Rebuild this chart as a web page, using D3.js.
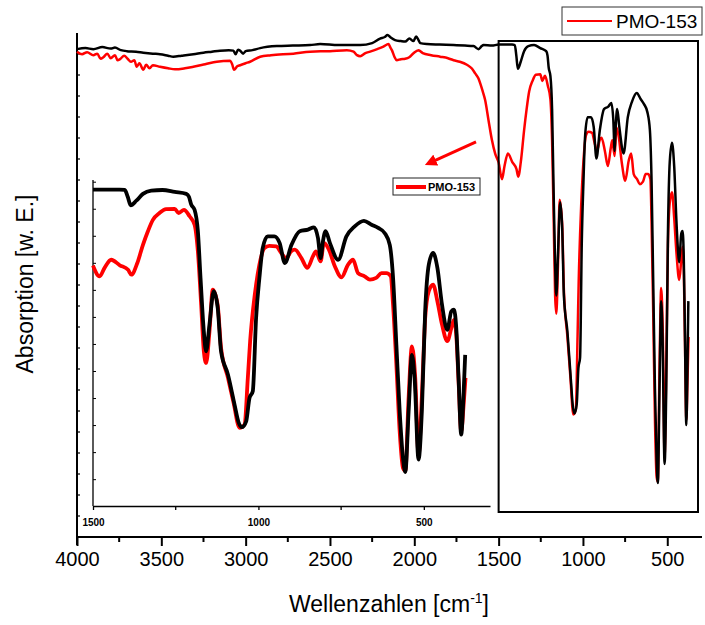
<!DOCTYPE html>
<html>
<head>
<meta charset="utf-8">
<script src="https://cdn.jsdelivr.net/npm/d3@7"></script>
<style>
  html, body { margin: 0; padding: 0; background: #fff; }
  svg { display: block; font-family: Arial, "Liberation Sans", sans-serif; }
</style>
</head>
<body>
<svg id="chart" width="705" height="625"></svg>
<script>
// ---------- data (wavenumber [cm-1], absorption in arbitrary units) ----------
const blackSpectrum = [
  [4000,96.8],[3950,97.0],[3903,96.8],[3850,97.2],[3800,96.9],[3775,97.1],[3740,96.6],[3705,96.4],
  [3650,96.3],[3607,96.1],[3550,95.9],[3508,95.8],[3460,95.5],[3429,95.3],[3380,95.5],[3310,95.8],
  [3250,96.1],[3200,96.3],[3152,96.5],[3100,96.6],[3073,96.5],[3059,95.8],[3045,96.7],[3033,96.5],
  [3015,95.9],[3000,96.4],[2960,96.6],[2914,97.0],[2815,97.4],[2720,97.5],[2618,97.6],[2558,97.8],
  [2450,97.6],[2321,97.6],[2250,98.0],[2203,98.9],[2175,99.2],[2159,99.6],[2140,99.1],[2114,98.6],
  [2080,98.4],[2054,98.3],[2029,98.9],[2005,98.4],[1989,99.3],[1975,98.6],[1965,98.0],[1925,97.8],
  [1850,97.7],[1767,97.6],[1700,97.5],[1649,97.4],[1619,96.8],[1600,97.4],[1590,97.6],[1540,97.5],
  [1500,97.7],[1480,97.7],[1420,97.7],[1404,97.6],[1395,95.5],[1386,92.9],[1369,94.3],[1349,96.4],
  [1324,97.4],[1290,97.6],[1253,97.0],[1218,96.4],[1210,95.5],[1203,93.1],[1193,91.5],[1183,84.9],
  [1175,70.5],[1165,54.0],[1158,47.9],[1148,56.1],[1135,66.4],[1123,61.2],[1113,47.9],[1092,40.7],
  [1072,31.4],[1060,26.0],[1050,24.5],[1037,26.3],[1027,33.5],[1017,35.6],[1007,58.2],[997,70.5],
  [987,79.7],[972,83.3],[952,83.3],[936,81.3],[920,75.1],[900,80.7],[875,84.9],[850,85.4],
  [832,86.1],[820,82.8],[812,76.6],[805,81.8],[797,84.9],[784,81.3],[759,76.1],[734,83.3],
  [709,86.4],[681,88.1],[658,86.9],[638,85.9],[618,84.3],[603,80.7],[593,70.5],[583,49.9],
  [573,29.4],[563,15.0],[556,10.7],[546,29.4],[536,46.8],[528,39.7],[516,14.5],[506,29.4],
  [496,60.2],[485,74.6],[472,78.2],[459,73.6],[445,62.2],[429,54.5],[417,60.2],[409,60.7],
  [402,55.1],[395,39.7],[387,22.2],[380,34.5],[375,46.8]
];
const redSpectrum = [
  [4000,96.3],[3970,95.8],[3940,96.2],[3903,95.6],[3880,95.9],[3860,94.9],[3844,95.2],[3820,95.9],
  [3800,95.0],[3775,95.6],[3760,94.6],[3745,94.8],[3720,95.5],[3700,94.9],[3680,94.3],[3660,94.6],
  [3646,93.3],[3630,94.0],[3607,92.7],[3590,93.7],[3570,93.0],[3550,93.6],[3508,93.3],[3460,93.0],
  [3419,92.8],[3360,93.0],[3310,93.3],[3240,93.8],[3171,94.3],[3093,94.5],[3080,93.8],[3069,92.7],
  [3050,93.4],[3033,93.6],[3000,94.0],[2974,94.3],[2914,95.3],[2850,95.6],[2717,95.9],[2618,96.3],
  [2500,96.4],[2400,96.6],[2360,96.3],[2340,95.6],[2321,95.4],[2290,96.0],[2262,96.3],[2220,96.8],
  [2183,97.3],[2153,97.8],[2140,97.0],[2133,96.6],[2118,95.3],[2104,94.6],[2080,94.8],[2054,94.9],
  [2030,95.2],[2005,96.0],[1975,96.6],[1965,96.4],[1950,96.0],[1900,95.6],[1847,95.3],[1800,95.0],
  [1767,94.6],[1730,94.3],[1688,93.7],[1660,93.0],[1639,92.0],[1620,91.0],[1609,90.0],[1595,88.5],
  [1580,86.7],[1560,82.7],[1540,78.8],[1520,76.0],[1500,74.3],[1480,71.0],[1465,73.6],[1445,76.1],
  [1419,74.4],[1394,73.0],[1384,71.5],[1366,75.1],[1349,80.7],[1334,84.9],[1319,88.4],[1299,90.5],
  [1279,91.7],[1253,91.8],[1241,90.5],[1225,91.5],[1208,89.5],[1193,86.9],[1183,78.7],[1173,62.2],
  [1165,47.9],[1158,44.3],[1148,54.0],[1138,66.9],[1123,62.0],[1113,49.0],[1092,39.7],[1075,32.0],
  [1057,24.3],[1042,25.3],[1032,39.7],[1025,51.0],[1011,65.3],[997,74.6],[982,79.7],[967,80.4],
  [946,80.2],[931,78.2],[916,76.6],[901,78.7],[890,79.2],[870,76.6],[852,73.6],[835,77.2],
  [826,78.7],[812,75.6],[802,81.3],[787,79.2],[769,74.1],[749,70.7],[729,74.6],[714,76.1],
  [699,72.0],[679,71.0],[663,70.0],[644,70.5],[628,72.0],[613,72.0],[600,71.0],[593,62.2],
  [583,43.8],[573,23.2],[563,11.9],[556,11.0],[546,33.6],[536,49.4],[526,39.7],[516,16.0],
  [506,34.0],[496,58.0],[485,66.4],[472,68.4],[459,63.3],[445,56.1],[429,51.0],[417,55.0],
  [409,57.6],[402,53.0],[395,38.7],[387,23.2],[380,31.0],[374,39.7]
];
const mainXTicks = [4000, 3500, 3000, 2500, 2000, 1500, 1000, 500];
const mainXMinor = [3750, 3250, 2750, 2250, 1750, 1250, 750];
const insetXTicks = [1500, 1000, 500];
const insetXMinor = [1250, 750];
const seriesLabel = "PMO-153";
const xTitle = "Wellenzahlen [cm";
const yTitle = "Absorption [w. E.]";

// ---------- layout ----------
const svg = d3.select("#chart");
const font = 'Arial, "Liberation Sans", sans-serif';

const x = d3.scaleLinear().domain([4000, 300]).range([77, 701]);
const y = d3.scaleLinear().domain([0, 100]).range([537, 33]);
const xi = d3.scaleLinear().domain([1500, 300]).range([93, 490]);
const yi = d3.scaleLinear().domain([0, 100]).range([506.7, 182.2]);

// ---------- main axes ----------
const gx = svg.append("g").attr("transform", "translate(0,537)");
gx.call(d3.axisBottom(x).tickValues(mainXTicks).tickSize(9).tickSizeOuter(0).tickPadding(6).tickFormat(d3.format("d")));
gx.select(".domain").attr("stroke-width", 2).attr("d", `M${x(4000)},0H702`);
gx.selectAll(".tick line").attr("stroke-width", 2);
gx.selectAll(".tick text").attr("font-size", 20).attr("font-family", font).attr("fill", "#000");
gx.selectAll(".minor").data(mainXMinor).enter().append("line")
  .attr("x1", d => x(d)).attr("x2", d => x(d)).attr("y1", 0).attr("y2", 5)
  .attr("stroke", "#000").attr("stroke-width", 2);

// main left axis (no labels, inward ticks)
const gy = svg.append("g").attr("transform", "translate(77,0)");
gy.append("line").attr("x1", 0).attr("x2", 0).attr("y1", 33).attr("y2", 545)
  .attr("stroke", "#000").attr("stroke-width", 2);
gy.selectAll(".yt").data(d3.range(1, 24).map(i => i * 100 / 24)).enter().append("line")
  .attr("x1", 0).attr("x2", 3).attr("y1", d => y(d)).attr("y2", d => y(d))
  .attr("stroke", "#000").attr("stroke-width", 1.2);

// ---------- main series ----------
const lineMain = d3.line().x(d => x(d[0])).y(d => y(d[1])).curve(d3.curveMonotoneX);
svg.append("path").datum(redSpectrum).attr("d", lineMain)
  .attr("fill", "none").attr("stroke", "#ff0000").attr("stroke-width", 2.5);
svg.append("path").datum(blackSpectrum).attr("d", lineMain)
  .attr("fill", "none").attr("stroke", "#000").attr("stroke-width", 2.5);

// highlight box over 1500..300 region
svg.append("rect").attr("x", x(1500)).attr("y", 41).attr("width", 698 - x(1500)).attr("height", 471)
  .attr("fill", "none").attr("stroke", "#000").attr("stroke-width", 2);

// ---------- inset ----------
const gi = svg.append("g");
gi.append("line").attr("x1", 93).attr("x2", 93).attr("y1", 180).attr("y2", 506)
  .attr("stroke", "#000").attr("stroke-width", 1.3);
gi.selectAll(".iyt").data(d3.range(1, 13).map(i => i * 100 / 12)).enter().append("line")
  .attr("x1", 93).attr("x2", 96).attr("y1", d => yi(d)).attr("y2", d => yi(d))
  .attr("stroke", "#000").attr("stroke-width", 1);
const gix = gi.append("g").attr("transform", "translate(0,506)");
gix.call(d3.axisBottom(xi).tickValues(insetXTicks).tickSize(4).tickSizeOuter(0).tickPadding(9).tickFormat(d3.format("d")));
gix.select(".domain").attr("stroke-width", 1.3);
gix.selectAll(".tick line").attr("stroke-width", 1.3);
gix.selectAll(".tick text").attr("font-size", 10).attr("font-weight", "bold").attr("font-family", font).attr("fill", "#000");
gix.selectAll(".minor").data(insetXMinor).enter().append("line")
  .attr("x1", d => xi(d)).attr("x2", d => xi(d)).attr("y1", 0).attr("y2", 4)
  .attr("stroke", "#000").attr("stroke-width", 1.3);

const lineInset = d3.line().x(d => xi(d[0])).y(d => yi(d[1])).curve(d3.curveMonotoneX);
const inRange = d => d[0] <= 1500;
gi.append("path").datum(redSpectrum.filter(inRange)).attr("d", lineInset)
  .attr("fill", "none").attr("stroke", "#ff0000").attr("stroke-width", 3.8);
gi.append("path").datum(blackSpectrum.filter(inRange)).attr("d", lineInset)
  .attr("fill", "none").attr("stroke", "#000").attr("stroke-width", 3.8);

// inset legend
gi.append("rect").attr("x", 393).attr("y", 178).attr("width", 87).attr("height", 17)
  .attr("fill", "#fff").attr("stroke", "#222").attr("stroke-width", 1);
gi.append("line").attr("x1", 396).attr("x2", 426).attr("y1", 187).attr("y2", 187)
  .attr("stroke", "#ff0000").attr("stroke-width", 4);
gi.append("text").attr("x", 428).attr("y", 191).attr("font-size", 11).attr("font-weight", "bold")
  .attr("font-family", font).text(seriesLabel);

// arrow (annotation in data coordinates)
svg.append("defs").append("marker").attr("id", "ah").attr("viewBox", "0 0 10 10")
  .attr("refX", 5).attr("refY", 5).attr("markerWidth", 4).attr("markerHeight", 4).attr("orient", "auto")
  .append("path").attr("d", "M0,0L10,5L0,10z").attr("fill", "#ff0000");
svg.append("line").attr("x1", x(1634)).attr("y1", y(78.4)).attr("x2", x(1905)).attr("y2", y(74.3))
  .attr("stroke", "#ff0000").attr("stroke-width", 3).attr("marker-end", "url(#ah)");

// ---------- main legend ----------
svg.append("rect").attr("x", 562).attr("y", 7).attr("width", 140).attr("height", 28)
  .attr("fill", "#fff").attr("stroke", "#333").attr("stroke-width", 1);
svg.append("line").attr("x1", 567).attr("x2", 612).attr("y1", 21).attr("y2", 21)
  .attr("stroke", "#ff0000").attr("stroke-width", 2);
svg.append("text").attr("x", 616).attr("y", 28).attr("font-size", 19).attr("font-family", font)
  .text(seriesLabel);

// ---------- titles ----------
const xt = svg.append("text").attr("x", 389).attr("y", 612).attr("text-anchor", "middle")
  .attr("font-size", 23).attr("font-family", font);
xt.append("tspan").text(xTitle);
xt.append("tspan").attr("font-size", 14).attr("dy", -9).text("-1");
xt.append("tspan").attr("dy", 9).text("]");

svg.append("text").attr("transform", "translate(33,284) rotate(-90)").attr("text-anchor", "middle")
  .attr("font-size", 23).attr("font-family", font).text(yTitle);
</script>
</body>
</html>
